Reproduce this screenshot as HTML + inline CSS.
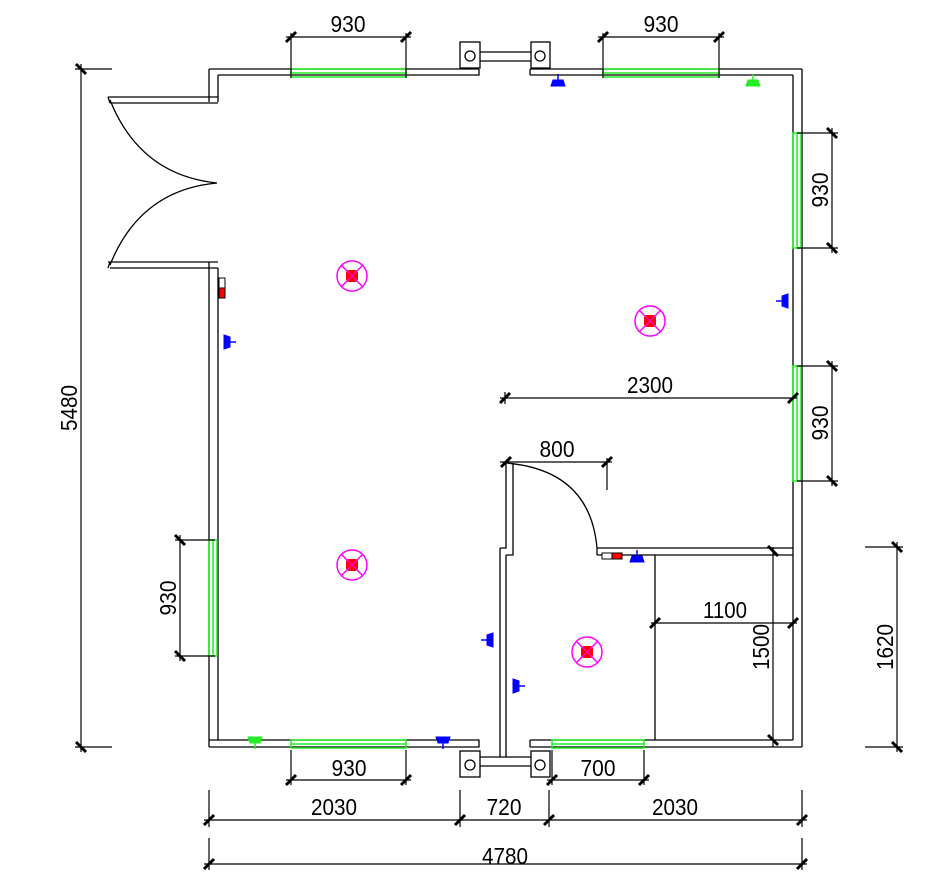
<!DOCTYPE html>
<html><head><meta charset="utf-8"><style>
html,body{margin:0;padding:0;background:#fff;}
svg{display:block;}
text{font-family:"Liberation Sans",sans-serif;font-size:23px;fill:#000;}
</style></head><body>
<svg width="940" height="895" viewBox="0 0 940 895" xmlns="http://www.w3.org/2000/svg">
<defs>
<g id="th"><line x1="-5" y1="5" x2="5" y2="-5" stroke="#000" stroke-width="3"/></g>
<g id="tv"><line x1="-5" y1="-5" x2="5" y2="5" stroke="#000" stroke-width="3"/></g>
<g id="lt">
<circle r="15" fill="none" stroke="#f0f" stroke-width="1.5"/>
<line x1="-10.6" y1="-10.6" x2="10.6" y2="10.6" stroke="#f0f" stroke-width="1.5"/>
<line x1="-10.6" y1="10.6" x2="10.6" y2="-10.6" stroke="#f0f" stroke-width="1.5"/>
<rect x="-6" y="-6" width="12" height="12" rx="3" fill="#f00"/>
<line x1="-6" y1="-6" x2="6" y2="6" stroke="#f0f" stroke-width="1"/>
<line x1="-6" y1="6" x2="6" y2="-6" stroke="#f0f" stroke-width="1"/>
</g>
<g id="ob"><path d="M-7,0 L7,0 L5,-6 L-5,-6 Z" /><line x1="0" y1="-6" x2="0" y2="-12" stroke-width="1.5"/></g>
</defs>
<g stroke="#000" stroke-width="1.3" fill="none">
<path d="M209,69 H479 M218,75 H479 V69 M209,69 V102 M218,75 V102"/>
<path d="M530,69 H802 M530,75 H793 M530,69 V75 M802,69 V747 M793,75 V740"/>
<rect x="460" y="42" width="20" height="26" fill="#fff"/>
<rect x="531" y="42" width="19" height="26" fill="#fff"/>
<circle cx="470" cy="56" r="5"/><circle cx="540" cy="56" r="5"/>
<path d="M480,52 H531 M480,61 H531"/>
<path d="M108,97 H218 M110,103 H218 M108,97 L110,103"/>
<path d="M108,262 H218 M110,268 H218 M108,268 L110,262 M209,262 V747 M218,268 V740"/>
<path d="M110,100 Q140,175 217,183 Q140,190 110,265"/>
<path d="M209,747 H479 V740 H209 M530,747 H802 M530,740 H793 M530,740 V747"/>
<rect x="460" y="751" width="20" height="26" fill="#fff"/>
<rect x="531" y="751" width="19" height="26" fill="#fff"/>
<circle cx="470" cy="765" r="5"/><circle cx="540" cy="765" r="5"/>
<path d="M480,757 H531 M480,766 H531"/>
<path d="M500,548 V757 M506,555 V757 M506,463 V548 H500 M513,463 V555 H506"/>
<path d="M597,548 H793 M597,555 H793 M597,548 V555"/>
<path d="M506,463 Q590,470 597,548"/>
<path d="M655,555 V740"/>
</g>
<g stroke="#2e2" stroke-width="1.5" fill="none">
<rect x="291" y="69" width="115" height="8"/><line x1="291" y1="73" x2="406" y2="73"/>
<rect x="603" y="69" width="116" height="8"/><line x1="603" y1="73" x2="719" y2="73"/>
<rect x="793" y="133" width="8" height="115"/><line x1="797" y1="133" x2="797" y2="248"/>
<rect x="793" y="366" width="8" height="115"/><line x1="797" y1="366" x2="797" y2="481"/>
<rect x="209" y="540" width="8" height="116"/><line x1="213" y1="540" x2="213" y2="656"/>
<rect x="291" y="740" width="115" height="8"/><line x1="291" y1="744" x2="406" y2="744"/>
<rect x="552" y="740" width="92" height="8"/><line x1="552" y1="744" x2="644" y2="744"/>
</g>
<use href="#lt" x="352" y="276"/><use href="#lt" x="650" y="321"/>
<use href="#lt" x="352" y="565"/><use href="#lt" x="587" y="652"/>
<g fill="#00f" stroke="#00f">
<use href="#ob" transform="translate(558,86)"/>
<use href="#ob" transform="translate(443,737) rotate(180)"/>
<use href="#ob" transform="translate(637,562)"/>
<use href="#ob" transform="translate(224,342) rotate(90)"/>
<use href="#ob" transform="translate(788,301) rotate(-90)"/>
<use href="#ob" transform="translate(493,640) rotate(-90)"/>
<use href="#ob" transform="translate(513,686) rotate(90)"/>
</g>
<g fill="#2e2" stroke="#2e2">
<use href="#ob" transform="translate(753,86)"/>
<use href="#ob" transform="translate(255,737) rotate(180)"/>
</g>
<rect x="219" y="278" width="6" height="10" fill="#fff" stroke="#000"/>
<rect x="219" y="288" width="6" height="10" fill="#f00" stroke="#000"/>
<rect x="602" y="553" width="10" height="6" fill="#fff" stroke="#000"/>
<rect x="612" y="553" width="10" height="6" fill="#f00" stroke="#000"/>
<g stroke="#000" stroke-width="1.2" fill="none">
<path d="M286,37 H411 M291,33 V78 M406,33 V78"/>
<path d="M598,37 H724 M603,33 V78 M719,33 V78"/>
<path d="M832,128 V253 M797,133 H838 M797,248 H838"/>
<path d="M832,361 V486 M797,366 H838 M797,481 H838"/>
<path d="M500,398 H797 M505,392 V404"/>
<path d="M500,462 H612 M607,458 V490"/>
<path d="M651,623 H797"/>
<path d="M773,547 V747"/>
<path d="M897,542 V752 M865,547 H903 M865,747 H903"/>
<path d="M81,64 V752 M75,69 H112 M75,747 H112"/>
<path d="M180,535 V661 M175,540 H215 M175,656 H215"/>
<path d="M286,780 H411 M291,750 V785 M406,750 V785"/>
<path d="M547,780 H649 M552,750 V785 M644,750 V785"/>
<path d="M204,820 H807 M209,790 V827 M460,790 V827 M549,790 V827 M802,790 V827"/>
<path d="M204,864 H807 M209,838 V870 M802,838 V870"/>
</g>
<g>
<use href="#th" x="291" y="37"/><use href="#th" x="406" y="37"/>
<use href="#th" x="603" y="37"/><use href="#th" x="719" y="37"/>
<use href="#tv" x="832" y="133"/><use href="#tv" x="832" y="248"/>
<use href="#tv" x="832" y="366"/><use href="#tv" x="832" y="481"/>
<use href="#th" x="505" y="398"/><use href="#th" x="793" y="398"/>
<use href="#th" x="506" y="462"/><use href="#th" x="607" y="462"/>
<use href="#th" x="655" y="623"/><use href="#th" x="793" y="623"/>
<use href="#tv" x="773" y="551"/><use href="#tv" x="773" y="740"/>
<use href="#tv" x="897" y="547"/><use href="#tv" x="897" y="747"/>
<use href="#tv" x="81" y="69"/><use href="#tv" x="81" y="747"/>
<use href="#tv" x="180" y="540"/><use href="#tv" x="180" y="656"/>
<use href="#th" x="291" y="780"/><use href="#th" x="406" y="780"/>
<use href="#th" x="552" y="780"/><use href="#th" x="644" y="780"/>
<use href="#th" x="209" y="820"/><use href="#th" x="460" y="820"/><use href="#th" x="549" y="820"/><use href="#th" x="802" y="820"/>
<use href="#th" x="209" y="864"/><use href="#th" x="802" y="864"/>
</g>
<g>
<text x="348" y="32" text-anchor="middle" textLength="35" lengthAdjust="spacingAndGlyphs">930</text>
<text x="661" y="32" text-anchor="middle" textLength="35" lengthAdjust="spacingAndGlyphs">930</text>
<text transform="translate(828,190) rotate(-90)" text-anchor="middle" textLength="35" lengthAdjust="spacingAndGlyphs">930</text>
<text transform="translate(828,423) rotate(-90)" text-anchor="middle" textLength="35" lengthAdjust="spacingAndGlyphs">930</text>
<text x="650" y="393" text-anchor="middle" textLength="46" lengthAdjust="spacingAndGlyphs">2300</text>
<text x="557" y="457" text-anchor="middle" textLength="35" lengthAdjust="spacingAndGlyphs">800</text>
<text x="725" y="618" text-anchor="middle" textLength="44" lengthAdjust="spacingAndGlyphs">1100</text>
<text transform="translate(769,647) rotate(-90)" text-anchor="middle" textLength="46" lengthAdjust="spacingAndGlyphs">1500</text>
<text transform="translate(893,647) rotate(-90)" text-anchor="middle" textLength="46" lengthAdjust="spacingAndGlyphs">1620</text>
<text transform="translate(77,408) rotate(-90)" text-anchor="middle" textLength="46" lengthAdjust="spacingAndGlyphs">5480</text>
<text transform="translate(176,598) rotate(-90)" text-anchor="middle" textLength="35" lengthAdjust="spacingAndGlyphs">930</text>
<text x="349" y="776" text-anchor="middle" textLength="35" lengthAdjust="spacingAndGlyphs">930</text>
<text x="598" y="776" text-anchor="middle" textLength="35" lengthAdjust="spacingAndGlyphs">700</text>
<text x="334" y="815" text-anchor="middle" textLength="46" lengthAdjust="spacingAndGlyphs">2030</text>
<text x="504" y="815" text-anchor="middle" textLength="35" lengthAdjust="spacingAndGlyphs">720</text>
<text x="675" y="815" text-anchor="middle" textLength="46" lengthAdjust="spacingAndGlyphs">2030</text>
<text x="505" y="864" text-anchor="middle" textLength="46" lengthAdjust="spacingAndGlyphs">4780</text>
</g>
</svg>
</body></html>
